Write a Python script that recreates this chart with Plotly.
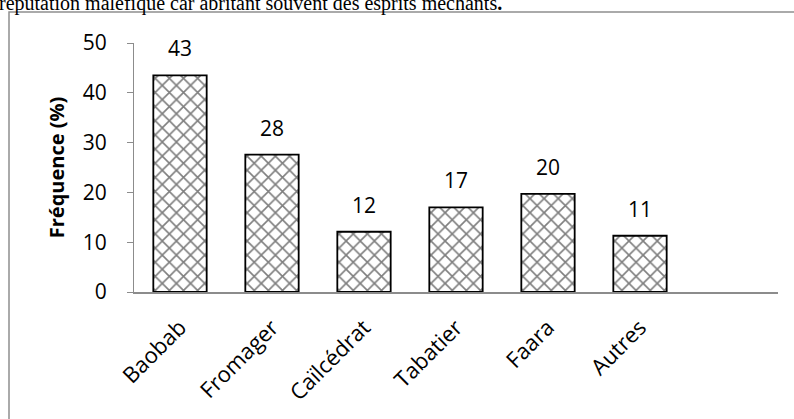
import plotly.graph_objects as go

categories = ["Baobab", "Fromager", "Caïlcédrat", "Tabatier", "Faara", "Autres"]
values = [43.5, 27.6, 12.1, 17.0, 19.7, 11.3]
value_labels = ["43", "28", "12", "17", "20", "11"]
y_ticks = [0, 10, 20, 30, 40, 50]
caption = "réputation maléfique car abritant souvent des esprits méchants<b>.</b>"

W, H = 794, 419
ML, MR, MT, MB = 134, 16, 43, 127
PW = W - ML - MR
PH = H - MT - MB

def px_x(p):
    return (p - ML) / PW

def px_y(p):
    return (H - MB - p) / PH

FONT = "Open Sans"

fig = go.Figure()
fig.add_trace(go.Bar(
    x=list(range(len(categories))),
    y=values,
    width=0.58,
    marker=dict(
        color="white",
        line=dict(color="black", width=1.8),
        pattern=dict(shape="x", fgcolor="black", bgcolor="white", size=10, solidity=0.3),
    ),
    hoverinfo="skip",
))

for i, (v, t) in enumerate(zip(values, value_labels)):
    fig.add_annotation(x=i, y=v, text=t, showarrow=False, yanchor="bottom",
                       yshift=11, font=dict(family=FONT, size=21, color="black"))

# outer frame of the chart
fig.add_shape(type="rect", xref="paper", yref="paper",
              x0=px_x(9), x1=px_x(W + 40), y0=px_y(H + 40), y1=px_y(12),
              line=dict(color="#8f8f8f", width=1.5), layer="below")

# caption line from surrounding document
fig.add_annotation(xref="paper", yref="paper", x=px_x(-3), y=px_y(3),
                   xanchor="left", yanchor="middle", text=caption, showarrow=False,
                   font=dict(family="Liberation Serif", size=20, color="black"))

fig.update_layout(
    width=W, height=H,
    margin=dict(l=ML, r=MR, t=MT, b=MB),
    paper_bgcolor="white", plot_bgcolor="white",
    showlegend=False,
    font=dict(family=FONT, size=20, color="black"),
)
fig.update_xaxes(
    range=[-0.5, 6.5],
    tickmode="array", tickvals=list(range(len(categories))), ticktext=categories,
    tickangle=-45, ticks="", showgrid=False, zeroline=False,
    showline=True, linecolor="#8c8c8c", linewidth=1.8,
    ticklabelstandoff=12,
    tickfont=dict(family=FONT, size=22, color="black"),
)
fig.update_yaxes(
    range=[0, 50], tickvals=y_ticks, ticks="outside", ticklen=6, tickcolor="#8c8c8c",
    tickwidth=1.3, showgrid=False, zeroline=False,
    showline=True, linecolor="#8c8c8c", linewidth=1.3,
    ticklabelstandoff=16,
    tickfont=dict(family=FONT, size=21, color="black"),
    title=dict(text="<b>Fréquence (%)</b>", standoff=12,
               font=dict(family=FONT, size=20, color="black")),
)

fig.write_html("out.html", config={"displayModeBar": False},
               post_script="document.body.style.margin='0';")
